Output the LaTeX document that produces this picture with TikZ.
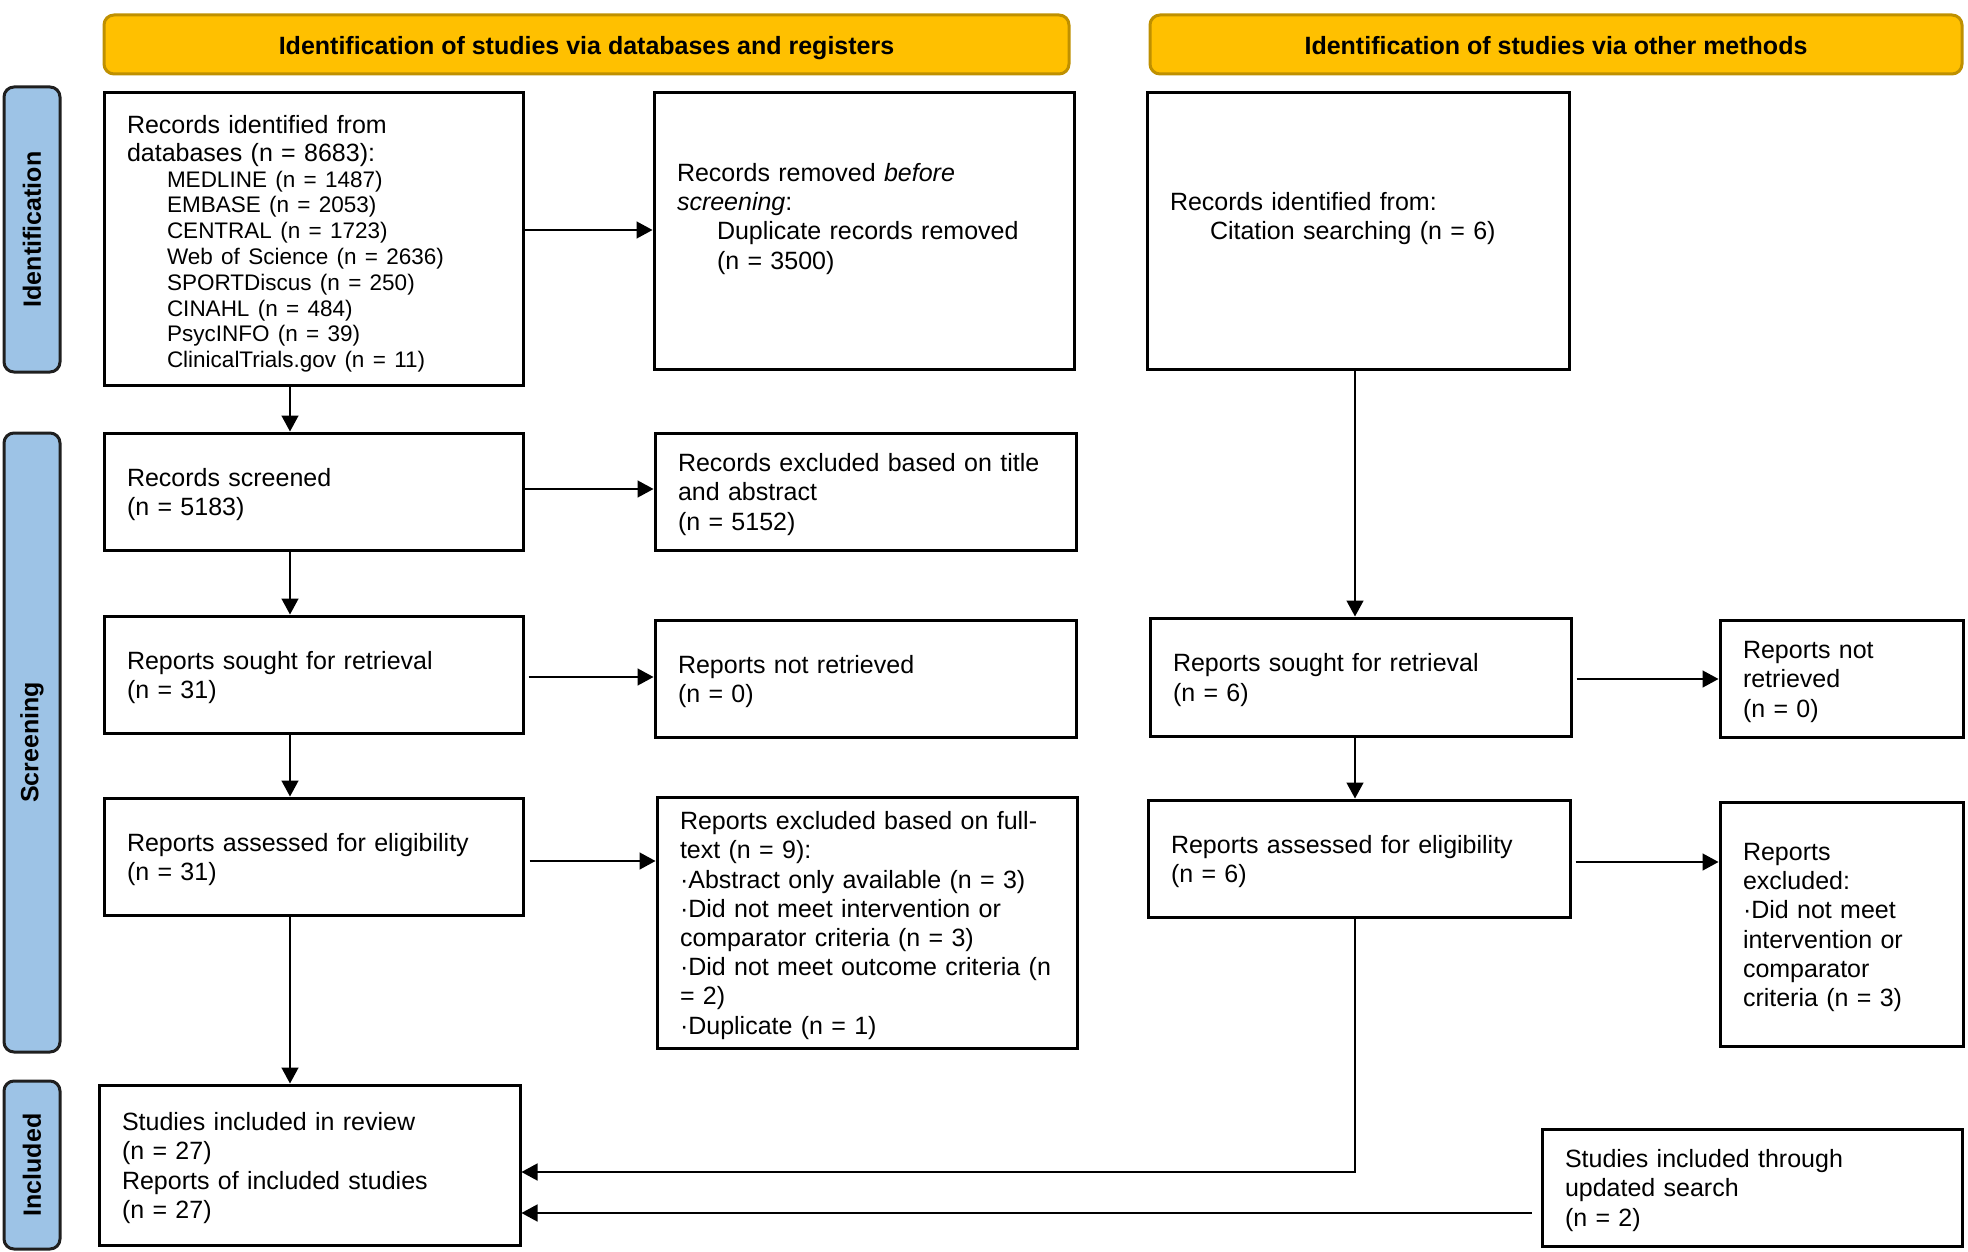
\documentclass[tikz,border=0pt]{standalone}
\usepackage{fontspec}
\setmainfont{Liberation Sans}
\usetikzlibrary{arrows.meta}
\definecolor{hdrfill}{HTML}{FFC000}
\definecolor{hdrdraw}{HTML}{BF9000}
\definecolor{sidefill}{HTML}{9DC3E6}
\definecolor{sidedraw}{HTML}{1F1F1F}
\begin{document}
\begin{tikzpicture}[x=1pt,y=-1pt,
  pbox/.style={draw=black, line width=3pt, align=left, inner xsep=23pt, inner ysep=0pt,
    font=\fontsize{25}{29.2}\selectfont, execute at begin node={\rule{0pt}{24pt}}},
  hdr/.style={draw=hdrdraw, fill=hdrfill, line width=3pt, rounded corners=10pt,
    font=\fontsize{25}{30}\selectfont\bfseries, minimum height=59pt, inner sep=0pt,
    text height=19.5pt, text depth=0pt},
  side/.style={draw=sidedraw, fill=sidefill, line width=3pt, rounded corners=10pt, rotate=90,
    font=\fontsize{25}{30}\selectfont\bfseries, minimum height=56pt, inner sep=0pt},
  arr/.style={line width=1.5pt, -{Triangle[length=16pt,width=17pt]}}
]
\useasboundingbox (0,0) rectangle (1968,1252);

% headers
\node[hdr, minimum width=965pt] (h1) at (586.5,44.5) {Identification of studies via databases and registers};
\node[hdr, minimum width=812pt] (h2) at (1556,44.5) {Identification of studies via other methods};

% side labels
\node[side, minimum width=285pt] (s1) at (32,229.5) {Identification};
\node[side, minimum width=619pt] (s2) at (32,742.5) {Screening};
\node[side, minimum width=168pt] (s3) at (32,1165) {Included};

% boxes
\node[pbox, text width=373pt, minimum height=292pt] (b1) at (313.5,239)
  {\fontsize{25}{27.6}\selectfont\rule{0pt}{28pt}Records identified from\\databases (n = 8683):\\
   \fontsize{22.5}{25.8}\selectfont\leftskip=40pt
   MEDLINE (n = 1487)\\EMBASE (n = 2053)\\CENTRAL (n = 1723)\\Web of Science (n = 2636)\\SPORTDiscus (n = 250)\\CINAHL (n = 484)\\PsycINFO (n = 39)\\ClinicalTrials.gov (n = 11)\par};
\node[pbox, text width=374pt, minimum height=276pt] (b2) at (864,231)
  {Records removed \textit{before}\\\textit{screening}:\\\hspace*{40pt}Duplicate records removed\\\hspace*{40pt}(n = 3500)\\\rule[-6pt]{0pt}{6pt}};
\node[pbox, text width=376pt, minimum height=276pt] (b3) at (1358,231)
  {Records identified from:\\\hspace*{40pt}Citation searching (n = 6)\\\rule[-6pt]{0pt}{6pt}};
\node[pbox, text width=373pt, minimum height=117pt] (b4) at (313.5,491.5)
  {Records screened\\(n = 5183)};
\node[pbox, text width=375pt, minimum height=117pt] (b5) at (865.5,491.5)
  {Records excluded based on title\\and abstract\\(n = 5152)};
\node[pbox, text width=373pt, minimum height=117pt] (b6) at (313.5,674.5)
  {Reports sought for retrieval\\(n = 31)};
\node[pbox, text width=375pt, minimum height=117pt] (b7) at (865.5,678.5)
  {Reports not retrieved\\(n = 0)};
\node[pbox, text width=373pt, minimum height=117pt] (b8) at (313.5,856.5)
  {Reports assessed for eligibility\\(n = 31)};
\node[pbox, text width=374pt, minimum height=251pt] (b9) at (867,922.5)
  {Reports excluded based on full-\\text (n = 9):\\·Abstract only available (n = 3)\\·Did not meet intervention or\\comparator criteria (n = 3)\\·Did not meet outcome criteria (n\\= 2)\\·Duplicate (n = 1)};
\node[pbox, text width=375pt, minimum height=118pt] (b10) at (1360.5,677)
  {Reports sought for retrieval\\(n = 6)};
\node[pbox, text width=197pt, minimum height=117pt] (b11) at (1841.5,678.5)
  {Reports not\\retrieved\\(n = 0)};
\node[pbox, text width=376pt, minimum height=117pt] (b12) at (1359,858.5)
  {Reports assessed for eligibility\\(n = 6)};
\node[pbox, text width=197pt, minimum height=244pt] (b13) at (1841.5,924)
  {Reports\\excluded:\\·Did not meet\\intervention or\\comparator\\criteria (n = 3)};
\node[pbox, text width=375pt, minimum height=160pt] (b14) at (309.5,1165)
  {Studies included in review\\(n = 27)\\Reports of included studies\\(n = 27)};
\node[pbox, text width=374pt, minimum height=117pt] (b15) at (1752,1187.5)
  {Studies included through\\updated search\\(n = 2)};

% helper coordinates
\coordinate (cL) at (290,0);
\coordinate (cR) at (1355,0);
\coordinate (ya) at (0,230);
\coordinate (yb) at (0,489);
\coordinate (yc) at (0,677);
\coordinate (yd) at (0,861);
\coordinate (ye) at (0,679);
\coordinate (yf) at (0,862);
\coordinate (yg) at (0,1172);
\coordinate (yh) at (0,1213);

% connectors
\draw[arr] (b1.south -| cL) -- (b4.north -| cL);
\draw[arr] (b4.south -| cL) -- (b6.north -| cL);
\draw[arr] (b6.south -| cL) -- (b8.north -| cL);
\draw[arr] (b8.south -| cL) -- (b14.north -| cL);
\draw[arr] (b1.east |- ya) -- (b2.west |- ya);
\draw[arr] (b4.east |- yb) -- (b5.west |- yb);
\draw[arr, shorten <=4pt] (b6.east |- yc) -- (b7.west |- yc);
\draw[arr, shorten <=5pt] (b8.east |- yd) -- (b9.west |- yd);
\draw[arr] (b3.south -| cR) -- (b10.north -| cR);
\draw[arr] (b10.south -| cR) -- (b12.north -| cR);
\draw[arr, shorten <=4pt] (b10.east |- ye) -- (b11.west |- ye);
\draw[arr, shorten <=4pt] (b12.east |- yf) -- (b13.west |- yf);
\draw[arr] (b12.south -| cR) -- (cR |- yg) -- (b14.east |- yg);
\draw[arr, shorten <=9pt] (b15.west |- yh) -- (b14.east |- yh);
\end{tikzpicture}
\end{document}
